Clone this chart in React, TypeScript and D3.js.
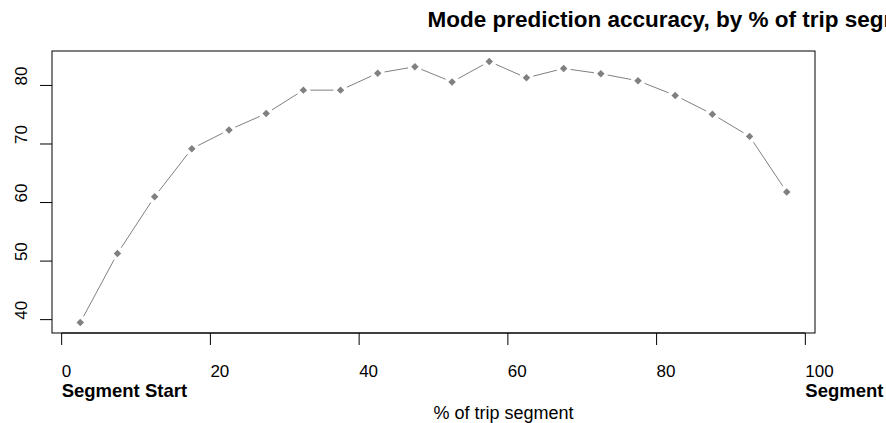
import React from 'react';
import * as d3 from 'd3';

const W = 886, H = 423;
const BOX = { left: 52, right: 815, top: 51, bottom: 333 };

const segmentPct = [2.5, 7.5, 12.5, 17.5, 22.5, 27.5, 32.5, 37.5, 42.5, 47.5, 52.5, 57.5, 62.5, 67.5, 72.5, 77.5, 82.5, 87.5, 92.5, 97.5];
const accuracy = [39.5, 51.3, 61.0, 69.2, 72.4, 75.2, 79.2, 79.2, 82.1, 83.2, 80.6, 84.1, 81.3, 82.9, 82.0, 80.8, 78.3, 75.1, 71.3, 61.8];
const xTicks = [0, 20, 40, 60, 80, 100];
const yTicks = [40, 50, 60, 70, 80];

const GREY = '#808080';
const FONT = '"Liberation Sans", Arial, sans-serif';

export default function App() {
  // R style 4% range extension
  const [x0, x1] = d3.extent(segmentPct) as [number, number];
  const [y0, y1] = d3.extent(accuracy) as [number, number];
  const dx = (x1 - x0) * 0.04, dy = (y1 - y0) * 0.04;
  const x = d3.scaleLinear().domain([x0 - dx, x1 + dx]).range([BOX.left, BOX.right]);
  const y = d3.scaleLinear().domain([y0 - dy, y1 + dy]).range([BOX.bottom, BOX.top]);

  const pts = segmentPct.map((p, i) => [x(p), y(accuracy[i])]);
  const gap = 7;
  // type = "b": segments shortened near each point
  const segs = pts.slice(1).map((b, i) => {
    const a = pts[i];
    const len = Math.hypot(b[0] - a[0], b[1] - a[1]);
    if (len <= 2 * gap) return null;
    const ux = (b[0] - a[0]) / len, uy = (b[1] - a[1]) / len;
    return [a[0] + ux * gap, a[1] + uy * gap, b[0] - ux * gap, b[1] - uy * gap];
  }).filter(Boolean) as number[][];

  const diamond = d3.symbol().type(d3.symbolSquare).size(28)();
  const midX = (BOX.left + BOX.right) / 2;

  return (
    <svg width={W} height={H} style={{ position: 'absolute', left: 0, top: 0, background: '#fff' }} fontFamily={FONT}>
      <text x={midX - 6} y={27} fontSize={22.5} fontWeight="bold" fill="#000">
        Mode prediction accuracy, by % of trip segment
      </text>

      <rect x={BOX.left} y={BOX.top} width={BOX.right - BOX.left} height={BOX.bottom - BOX.top}
        fill="none" stroke="#000" strokeWidth={1} />

      {segs.map((s, i) => (
        <line key={i} x1={s[0]} y1={s[1]} x2={s[2]} y2={s[3]} stroke={GREY} strokeWidth={1} />
      ))}
      {pts.map((p, i) => (
        <path key={i} d={diamond} transform={`translate(${p[0]},${p[1]}) rotate(45)`} fill={GREY} />
      ))}

      {/* y axis */}
      {yTicks.map((t) => (
        <g key={t}>
          <line x1={BOX.left - 12} x2={BOX.left} y1={y(t)} y2={y(t)} stroke="#000" />
          <text transform={`translate(27,${y(t)}) rotate(-90)`} textAnchor="start"
            fontSize={17} fill="#000">{t}</text>
        </g>
      ))}

      {/* x axis */}
      <line x1={x(0)} x2={x(100)} y1={BOX.bottom} y2={BOX.bottom} stroke="#000" />
      {xTicks.map((t) => (
        <g key={t}>
          <line x1={x(t)} x2={x(t)} y1={BOX.bottom} y2={BOX.bottom + 12} stroke="#000" />
          <text x={x(t)} y={377} textAnchor="start" fontSize={17} fill="#000">{t}</text>
        </g>
      ))}
      <text x={x(0)} y={397} fontSize={18.5} fontWeight="bold" fill="#000">Segment Start</text>
      <text x={x(100)} y={397} fontSize={18.5} fontWeight="bold" fill="#000">Segment End</text>
      <text x={midX} y={419} textAnchor="start" fontSize={18} fill="#000">% of trip segment</text>
    </svg>
  );
}
